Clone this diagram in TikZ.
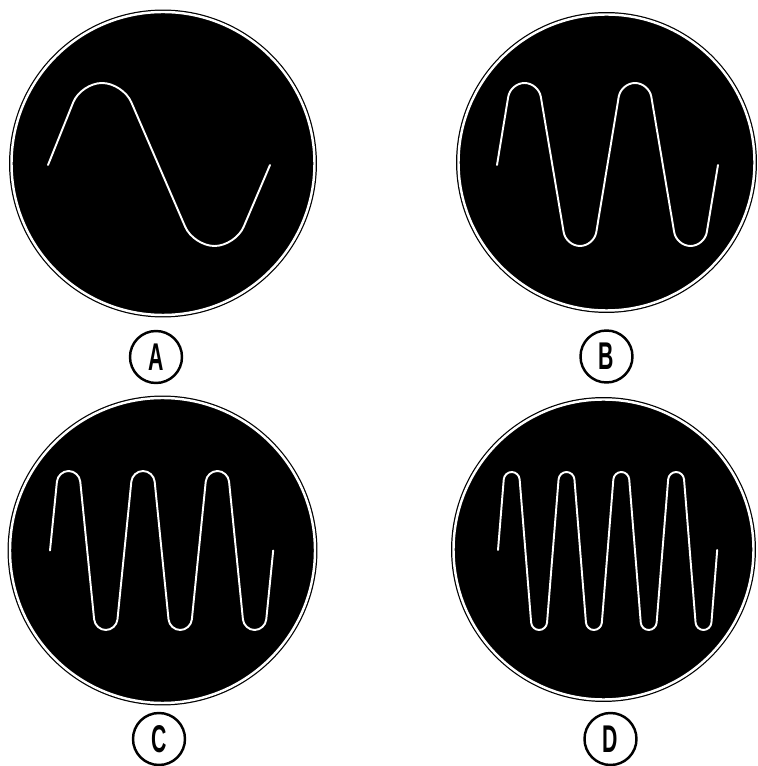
\documentclass[tikz,border=0pt]{standalone}
\usepackage{fontspec}
\setsansfont{Liberation Sans}
\usepackage{tikz}
\tikzset{
  screen/.style={circle, draw=black, fill=black, double=white, double distance=1.4pt, line width=0.7pt, inner sep=0pt},
  tag/.style={circle, draw, line width=1.4pt, minimum size=1.04cm, inner sep=0pt, font=\sffamily\bfseries\fontsize{22}{22}\selectfont},
  trace/.style={draw=white, line width=1.1pt, line cap=round}
}
\newcommand{\tagtext}[1]{\scalebox{0.55}[1]{#1}}

\begin{document}
\begin{tikzpicture}
\useasboundingbox (0,0) rectangle (15.16,15.32);
% scope faces
\node[screen, minimum size=6.06cm] (scrA) at (3.26,12.05) {};
\node[screen, minimum size=5.92cm] (scrB) at (12.13,12.07) {};
\node[screen, minimum size=6.10cm] (scrC) at (3.25,4.31) {};
\node[screen, minimum size=6.00cm] (scrD) at (12.07,4.33) {};
% letters
\node[tag] (tagA) at (3.12,8.18) {\tagtext{A}};
\node[tag] (tagB) at (12.13,8.19) {\tagtext{B}};
\node[tag] (tagC) at (3.18,0.54) {\tagtext{C}};
\node[tag] (tagD) at (12.21,0.54) {\tagtext{D}};
% one cycle
\draw[trace, rounded corners=0.42cm] (0.96,12.02) -- (1.62,13.66) -- (2.46,13.66)
  -- (3.87,10.40) -- (4.71,10.40) -- (5.40,12.02);
% two cycles
\draw[trace, rounded corners=0.28cm] (9.94,12.02) -- (10.21,13.66) -- (10.77,13.66)
  -- (11.32,10.40) -- (11.88,10.40) -- (12.42,13.66) -- (12.98,13.66)
  -- (13.53,10.40) -- (14.09,10.40) -- (14.36,12.02);
% three cycles
\draw[trace, rounded corners=0.212cm] (1.00,4.31) -- (1.16,5.90) -- (1.584,5.90)
  -- (1.904,2.72) -- (2.328,2.72) -- (2.648,5.90) -- (3.072,5.90)
  -- (3.392,2.72) -- (3.816,2.72) -- (4.136,5.90) -- (4.56,5.90)
  -- (4.88,2.72) -- (5.304,2.72) -- (5.464,4.31);
% four cycles
\draw[trace, rounded corners=0.147cm] (9.96,4.32) -- (10.087,5.88) -- (10.381,5.88)
  -- (10.635,2.72) -- (10.929,2.72) -- (11.183,5.88) -- (11.477,5.88)
  -- (11.731,2.72) -- (12.025,2.72) -- (12.279,5.88) -- (12.573,5.88)
  -- (12.827,2.72) -- (13.121,2.72) -- (13.375,5.88) -- (13.669,5.88)
  -- (13.923,2.72) -- (14.217,2.72) -- (14.344,4.32);
\end{tikzpicture}
\end{document}
